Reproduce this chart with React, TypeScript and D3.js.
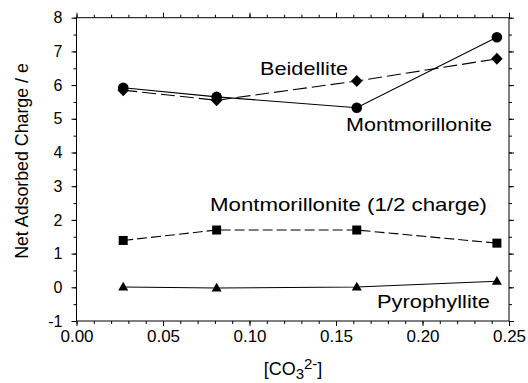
import * as d3 from "d3";
import { useEffect, useRef } from "react";

const concentrations = [0.027, 0.081, 0.162, 0.243];
const montmorillonite = [5.92, 5.65, 5.33, 7.42];
const beidellite = [5.85, 5.55, 6.12, 6.78];
const montHalfCharge = [1.39, 1.7, 1.7, 1.31];
const pyrophyllite = [0.01, -0.02, 0.01, 0.18];

const xMajorTicks = [0, 0.05, 0.1, 0.15, 0.2, 0.25];
const yMajorTicks = [-1, 0, 1, 2, 3, 4, 5, 6, 7, 8];

const width = 528;
const height = 383;

type Marker = "circle" | "diamond" | "square" | "triangle";

interface Series {
  name: string;
  values: number[];
  dash: string | null;
  marker: Marker;
}

const series: Series[] = [
  { name: "Montmorillonite", values: montmorillonite, dash: null, marker: "circle" },
  { name: "Beidellite", values: beidellite, dash: "14,5", marker: "diamond" },
  { name: "Montmorillonite (1/2 charge)", values: montHalfCharge, dash: "10,4", marker: "square" },
  { name: "Pyrophyllite", values: pyrophyllite, dash: null, marker: "triangle" },
];

// label text, start x, baseline y, rendered width
const labels: [string, number, number, number][] = [
  ["Beidellite", 260, 75, 88],
  ["Montmorillonite", 346, 131, 146],
  ["Montmorillonite (1/2 charge)", 210, 211, 277],
  ["Pyrophyllite", 377, 308, 113],
];

function markerPath(m: Marker): string {
  switch (m) {
    case "circle":
      return "M5.3,0A5.3,5.3 0 1,1 -5.3,0A5.3,5.3 0 1,1 5.3,0Z";
    case "diamond":
      return "M0,-6L5.8,0L0,6L-5.8,0Z";
    case "square":
      return "M-4.5,-4.5H4.5V4.5H-4.5Z";
    case "triangle":
      return "M0,-5.2L5,3.6L-5,3.6Z";
  }
}

export default function App() {
  const ref = useRef<SVGSVGElement>(null);

  useEffect(() => {
    if (!ref.current) return;
    const svg = d3.select(ref.current);
    svg.selectAll("*").remove();

    const font = "'Liberation Sans', Arial, Helvetica, sans-serif";
    const left = 76.5;
    const right = 509;
    const top = 17.7;
    const bottom = 321;

    const x = d3.scaleLinear().domain([0, 0.25]).range([left, right]);
    const y = d3.scaleLinear().domain([-1, 8]).range([bottom, top]);

    const xMinor = d3.range(0, 26).map((i) => i / 100);
    const yMinor = d3.range(-2, 17).map((i) => i / 2);

    const styleAxis = (size: string) => (g: d3.Selection<SVGGElement, unknown, null, undefined>) => {
      g.select(".domain").remove();
      g.selectAll("line").attr("stroke", "#000").attr("stroke-width", 1);
      g.selectAll("text")
        .style("font-family", font)
        .style("font-size", size)
        .attr("fill", "#000");
    };

    // bottom axis
    svg
      .append("g")
      .attr("transform", `translate(0,${bottom})`)
      .call(d3.axisBottom(x).tickValues(xMinor).tickSize(3).tickSizeOuter(0).tickFormat(() => ""))
      .call(styleAxis("16px"));
    svg
      .append("g")
      .attr("transform", `translate(0,${bottom})`)
      .call(
        d3
          .axisBottom(x)
          .tickValues(xMajorTicks)
          .tickSize(5)
          .tickPadding(4)
          .tickSizeOuter(0)
          .tickFormat((d) => d3.format(".2f")(d as number))
      )
      .call(styleAxis("17px"));

    // top axis
    svg
      .append("g")
      .attr("transform", `translate(0,${top})`)
      .call(d3.axisTop(x).tickValues(xMinor).tickSize(3).tickSizeOuter(0).tickFormat(() => ""))
      .call(styleAxis("16px"));
    svg
      .append("g")
      .attr("transform", `translate(0,${top})`)
      .call(d3.axisTop(x).tickValues(xMajorTicks).tickSize(5).tickSizeOuter(0).tickFormat(() => ""))
      .call(styleAxis("16px"));

    // left axis
    svg
      .append("g")
      .attr("transform", `translate(${left},0)`)
      .call(d3.axisLeft(y).tickValues(yMinor).tickSize(3).tickSizeOuter(0).tickFormat(() => ""))
      .call(styleAxis("16px"));
    svg
      .append("g")
      .attr("transform", `translate(${left},0)`)
      .call(
        d3
          .axisLeft(y)
          .tickValues(yMajorTicks)
          .tickSize(5)
          .tickPadding(9)
          .tickSizeOuter(0)
          .tickFormat((d) => String(d))
      )
      .call(styleAxis("16px"));

    // right axis
    svg
      .append("g")
      .attr("transform", `translate(${right},0)`)
      .call(d3.axisRight(y).tickValues(yMinor).tickSize(3).tickSizeOuter(0).tickFormat(() => ""))
      .call(styleAxis("16px"));
    svg
      .append("g")
      .attr("transform", `translate(${right},0)`)
      .call(d3.axisRight(y).tickValues(yMajorTicks).tickSize(5).tickSizeOuter(0).tickFormat(() => ""))
      .call(styleAxis("16px"));

    // frame
    svg
      .append("rect")
      .attr("x", left)
      .attr("y", top)
      .attr("width", right - left)
      .attr("height", bottom - top)
      .attr("fill", "none")
      .attr("stroke", "#000")
      .attr("stroke-width", 1);

    const line = d3
      .line<number>()
      .x((_, i) => x(concentrations[i]))
      .y((d) => y(d));

    series.forEach((s) => {
      svg
        .append("path")
        .attr("d", line(s.values) ?? "")
        .attr("fill", "none")
        .attr("stroke", "#000")
        .attr("stroke-width", 1.1)
        .attr("stroke-dasharray", s.dash ?? null);
    });

    series.forEach((s) => {
      svg
        .append("g")
        .selectAll("path")
        .data(s.values)
        .join("path")
        .attr("transform", (d, i) => `translate(${x(concentrations[i])},${y(d)})`)
        .attr("d", markerPath(s.marker))
        .attr("fill", "#000");
    });

    // series labels
    labels.forEach(([text, lx, ly, lw]) => {
      svg
        .append("text")
        .attr("x", lx)
        .attr("y", ly)
        .attr("textLength", lw)
        .attr("lengthAdjust", "spacingAndGlyphs")
        .style("font-family", font)
        .style("font-size", "18.6px")
        .attr("fill", "#000")
        .text(text);
    });

    // y axis title
    svg
      .append("text")
      .attr("transform", `translate(27.5,${161}) rotate(-90)`)
      .attr("text-anchor", "middle")
      .style("font-family", font)
      .style("font-size", "17.8px")
      .attr("fill", "#000")
      .text("Net Adsorbed Charge / e");

    // x axis title
    const xt = svg
      .append("text")
      .attr("x", 293)
      .attr("y", 375)
      .attr("text-anchor", "middle")
      .style("font-family", font)
      .style("font-size", "18px")
      .attr("fill", "#000");
    xt.append("tspan").text("[CO");
    xt.append("tspan").attr("dy", 4).style("font-size", "15px").text("3");
    xt.append("tspan").attr("dy", -10).style("font-size", "15px").text("2-");
    xt.append("tspan").attr("dy", 6).text("]");
  }, []);

  return (
    <svg
      ref={ref}
      width={width}
      height={height}
      style={{ position: "absolute", left: 0, top: 0, background: "#fff" }}
    />
  );
}
